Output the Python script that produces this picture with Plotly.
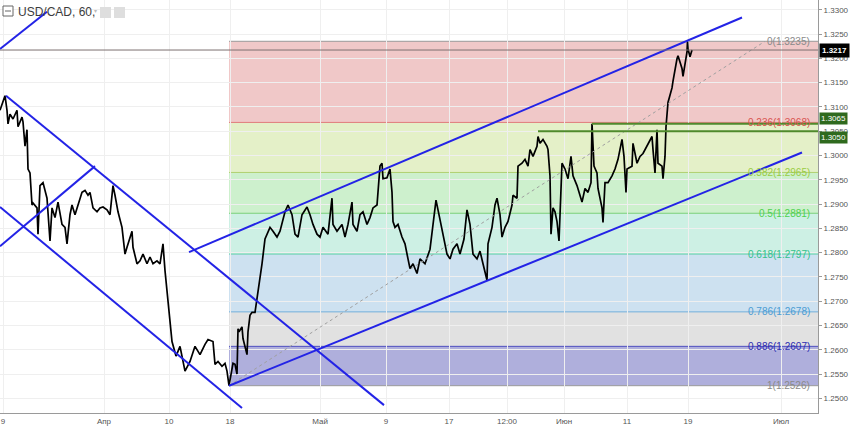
import plotly.graph_objects as go

# ---------------- price series (time index t, price) ----------------
T1 = [0, 5, 7, 8, 10, 13, 17, 18, 22, 23, 25, 27, 28, 30, 32, 33, 37, 38, 40, 43,
      47, 50, 52, 55, 58, 62, 65, 67, 70, 72, 75, 78, 82, 85, 88, 90, 93, 97, 100, 103,
      107, 110, 113, 115, 118, 122, 125, 127, 130, 132, 133, 137, 140, 143, 147, 150, 153, 157, 160, 163, 165]
P1 = [1.3093, 1.3123, 1.3093, 1.3065, 1.3085, 1.3075, 1.3093, 1.3059, 1.3079, 1.3069,
      1.3019, 1.3053, 1.2972, 1.2964, 1.2898, 1.2902, 1.2892, 1.2838, 1.2938, 1.2944,
      1.2912, 1.2824, 1.2892, 1.2872, 1.2904, 1.2858, 1.2852, 1.2818, 1.2878, 1.2898,
      1.2878, 1.2898, 1.2924, 1.2928, 1.2918, 1.2924, 1.2892, 1.2884, 1.2892, 1.2894,
      1.2888, 1.2878, 1.2938, 1.2918, 1.2884, 1.2852, 1.2797, 1.2811, 1.2832, 1.2844,
      1.2811, 1.2777, 1.2783, 1.2797, 1.2777, 1.2791, 1.2777, 1.2783, 1.2777, 1.2818, 1.2763]

T2 = [170, 172, 176, 180, 185, 190, 195, 200, 205, 208, 213, 215, 218, 222, 225, 227, 229, 232, 233, 235,
      237, 238, 239, 242, 243, 247, 248, 250, 252, 255]
P2 = [1.2657, 1.2617, 1.2587, 1.2607, 1.2556, 1.2576, 1.2607, 1.2590, 1.2611, 1.2621,
      1.2617, 1.2570, 1.2576, 1.2566, 1.2572, 1.2556, 1.2526, 1.2556, 1.2572, 1.2570,
      1.2550, 1.2643, 1.2637, 1.2647, 1.2623, 1.2590, 1.2637, 1.2671, 1.2677, 1.2677]

T3 = [258, 262, 265, 268, 270, 273, 277, 280, 285, 288, 292, 295, 298, 302, 307, 310, 313, 317, 320, 323,
      328, 332, 333, 337, 342, 345, 348, 352, 353, 357, 360, 363, 367, 370, 373, 377, 380, 382, 383, 387,
      390, 392, 393, 395, 398, 402, 405]
P3 = [1.2717, 1.2777, 1.2828, 1.2844, 1.2852, 1.2844, 1.2832, 1.2844, 1.2884, 1.2898,
      1.2878, 1.2838, 1.2832, 1.2878, 1.2894, 1.2878, 1.2858, 1.2838, 1.2832, 1.2852,
      1.2838, 1.2912, 1.2858, 1.2844, 1.2858, 1.2832, 1.2858, 1.2904, 1.2858, 1.2844,
      1.2878, 1.2884, 1.2858, 1.2872, 1.2892, 1.2898, 1.2978, 1.2984, 1.2952, 1.2954,
      1.2972, 1.2924, 1.2864, 1.2852, 1.2858, 1.2832, 1.2818]

T4 = [408, 410, 413, 417, 420, 425, 430, 433, 436, 440, 443, 447, 450, 453, 457, 460, 464, 467, 470, 473,
      477, 480, 483, 487, 488, 492, 495, 497, 500, 502, 505, 508, 512, 513, 517, 518, 522, 525, 528, 530,
      533, 537, 538, 540, 543, 547]
P4 = [1.2787, 1.2767, 1.2777, 1.2757, 1.2787, 1.2777, 1.2807, 1.2858, 1.2908, 1.2868,
      1.2838, 1.2797, 1.2787, 1.2807, 1.2818, 1.2797, 1.2828, 1.2888, 1.2858, 1.2797,
      1.2787, 1.2803, 1.2777, 1.2743, 1.2818, 1.2852, 1.2898, 1.2912, 1.2878, 1.2832,
      1.2852, 1.2864, 1.2898, 1.2918, 1.2912, 1.2978, 1.2984, 1.2992, 1.2978, 1.3012,
      1.2998, 1.3019, 1.3039, 1.3025, 1.3033, 1.3019]

T5 = [548, 550, 551, 553, 555, 557, 559, 561, 562, 565, 568, 571, 573, 577, 580, 582, 585, 588, 591, 592,
      594, 597, 598, 602, 603, 605, 608, 612, 615, 618, 622, 624, 626, 627, 632, 633, 637, 640, 643, 647,
      652, 653, 655, 657, 658, 662, 663, 665, 666, 668, 672, 673, 675, 677, 678, 680, 682, 683, 685, 687,
      687.5, 688, 690, 692]
P5 = [1.3012, 1.2958, 1.2838, 1.2892, 1.2884, 1.2864, 1.2824, 1.2918, 1.2984, 1.2972,
      1.2952, 1.2998, 1.2958, 1.2938, 1.2918, 1.2904, 1.2932, 1.2924, 1.2944, 1.3065,
      1.2978, 1.2964, 1.2932, 1.2892, 1.2862, 1.2944, 1.2944, 1.2958, 1.2972, 1.2992,
      1.3033, 1.2998, 1.2924, 1.2972, 1.2978, 1.3025, 1.2984, 1.2998, 1.3004, 1.3019,
      1.3039, 1.3012, 1.2964, 1.3053, 1.2984, 1.2978, 1.2952, 1.2998, 1.3059, 1.3109,
      1.3139, 1.3153, 1.3179, 1.3199, 1.3205, 1.3193, 1.3179, 1.3163, 1.3193, 1.3213,
      1.3235, 1.3219, 1.3203, 1.3217]

t = T1 + T2 + T3 + T4 + T5
price = P1 + P2 + P3 + P4 + P5

CURRENT_PRICE = 1.3217
LEVEL_LINES = [1.3065, 1.3050]          # horizontal green levels
LEVEL_STARTS = [592, 538]

# ---------------- axes ----------------
T_MAX = 818
X_TICK_POS = [3, 104, 169, 230, 320, 386, 449, 507, 564, 627, 688, 781]
X_TICK_TEXT = ["9", "Апр", "10", "18", "Май", "9", "17", "12:00", "Июн", "11", "19", "Июл"]
Y_TICKS = [1.2500, 1.2550, 1.2600, 1.2650, 1.2700, 1.2750, 1.2800, 1.2850, 1.2900,
           1.2950, 1.3000, 1.3050, 1.3100, 1.3150, 1.3200, 1.3250, 1.3300]
Y_TICK_TEXT = ["1.2500", "1.2550", "1.2600", "1.2650", "1.2700", "1.2750", "1.2800", "1.2850", "1.2900",
               "1.2950", "1.3000", "1.3050", "1.3100", "1.3150", "1.3200", "1.3250", "1.3300"]
Y_RANGE = [1.24698, 1.3320]

# ---------------- fibonacci retracement ----------------
FIB_START = 229
FIB_RATIOS = [0, 0.236, 0.382, 0.5, 0.618, 0.786, 0.886, 1]
FIB_PRICES = [1.3235, 1.3068, 1.2965, 1.2881, 1.2797, 1.2678, 1.2607, 1.2526]
FIB_LINE_COLORS = ["#9a9a9a", "#e07a7a", "#b0d070", "#7ad07a", "#60d0a8", "#70aedc", "#5050c0", "#9a9a9a"]
FIB_LABEL_COLORS = ["#8a8a8a", "#d9534f", "#99cc44", "#4fd14f", "#33c08c", "#4b9cd3", "#2c2cb0", "#8a8a8a"]
FIB_FILLS = ["rgba(212,98,98,0.35)", "rgba(178,212,98,0.35)", "rgba(112,212,112,0.35)",
             "rgba(112,212,178,0.35)", "rgba(112,169,212,0.35)", "rgba(169,169,169,0.35)",
             "rgba(26,26,155,0.35)"]
FIB_TREND_T = [229, 765]
FIB_TREND_P = [1.2526, 1.3235]

# ---------------- drawn trend lines ----------------
BLUE_LINES_T = [[189, 742], [229, 802], [6, 384], [0, 242], [0, 95], [0, 47]]
BLUE_LINES_P = [[1.2801, 1.3284], [1.2526, 1.3006], [1.3123, 1.2486], [1.2894, 1.2480],
                [1.2813, 1.2978], [1.3219, 1.3296]]

BLUE = "#2323e6"
FONT = "Liberation Sans, Arial, sans-serif"

fig = go.Figure()

# price
fig.add_trace(go.Scatter(x=t, y=price, mode="lines",
                         line=dict(color="#000000", width=1.7), hoverinfo="skip"))
# fib dotted trend
fig.add_trace(go.Scatter(x=FIB_TREND_T, y=FIB_TREND_P, mode="lines",
                         line=dict(color="#a0a0a0", width=1, dash="dot"), hoverinfo="skip"))
# blue trend lines
for xs, ys in zip(BLUE_LINES_T, BLUE_LINES_P):
    fig.add_trace(go.Scatter(x=xs, y=ys, mode="lines",
                             line=dict(color=BLUE, width=2), hoverinfo="skip"))

shapes = []
# fib bands
for i, col in enumerate(FIB_FILLS):
    shapes.append(dict(type="rect", xref="x", yref="y", x0=FIB_START, x1=T_MAX,
                       y0=FIB_PRICES[i + 1], y1=FIB_PRICES[i], fillcolor=col,
                       line=dict(width=0), layer="below"))
# fib lines
for p, col in zip(FIB_PRICES, FIB_LINE_COLORS):
    shapes.append(dict(type="line", xref="x", yref="y", x0=FIB_START, x1=T_MAX, y0=p, y1=p,
                       line=dict(color=col, width=1), layer="below"))
# current price line
shapes.append(dict(type="line", xref="x", yref="y", x0=0, x1=T_MAX, y0=CURRENT_PRICE, y1=CURRENT_PRICE,
                   line=dict(color="#7d7070", width=1)))
# green levels
for p, s in zip(LEVEL_LINES, LEVEL_STARTS):
    shapes.append(dict(type="line", xref="x", yref="y", x0=s, x1=T_MAX, y0=p, y1=p,
                       line=dict(color="#4f8a2c", width=2)))

# header icons (paper coords)
W, H = 818.0, 413.0
def px(x):
    return x / W
def py(y):
    return 1 - y / H
shapes.append(dict(type="rect", xref="paper", yref="paper", x0=px(3), x1=px(13), y0=py(16), y1=py(6),
                   line=dict(color="#666666", width=1), fillcolor="white"))
shapes.append(dict(type="line", xref="paper", yref="paper", x0=px(5), x1=px(11), y0=py(11), y1=py(11),
                   line=dict(color="#666666", width=1)))
for x0 in (100, 114):
    shapes.append(dict(type="rect", xref="paper", yref="paper", x0=px(x0), x1=px(x0 + 11),
                       y0=py(18), y1=py(7), line=dict(width=0), fillcolor="#dedede"))

annotations = []
annotations.append(dict(xref="paper", yref="paper", x=px(16), y=py(12), xanchor="left", yanchor="middle",
                        text="USD/CAD, 60,", showarrow=False,
                        font=dict(family=FONT, size=12, color="#3c3c3c")))
annotations.append(dict(xref="paper", yref="paper", x=px(92), y=py(11), xanchor="left", yanchor="middle",
                        text="▾", showarrow=False, font=dict(family=FONT, size=6, color="#bbbbbb")))
# fib labels
for r, p, col in zip(FIB_RATIOS, FIB_PRICES, FIB_LABEL_COLORS):
    annotations.append(dict(xref="paper", yref="y", x=px(812), y=p, xanchor="right", yanchor="middle",
                            text=f"{r:g}({p:.4f})", showarrow=False,
                            font=dict(family=FONT, size=10, color=col)))
# price labels on axis
annotations.append(dict(xref="paper", yref="y", x=1, y=CURRENT_PRICE, xanchor="left", yanchor="middle",
                        xshift=1, text=f"<b>{CURRENT_PRICE:.4f}</b>", showarrow=False, bgcolor="#000000",
                        borderpad=2, font=dict(family=FONT, size=8, color="white")))
for p, ys in zip(LEVEL_LINES, [5, -6]):
    annotations.append(dict(xref="paper", yref="y", x=1, y=p, xanchor="left", yanchor="middle",
                            xshift=1, yshift=ys, text=f"{p:.4f}", showarrow=False, bgcolor="#2f6a1e",
                            borderpad=1, font=dict(family=FONT, size=8, color="white")))

fig.update_layout(
    width=850, height=430,
    margin=dict(l=0, r=32, t=0, b=17, autoexpand=False),
    plot_bgcolor="white", paper_bgcolor="white",
    showlegend=False,
    shapes=shapes, annotations=annotations,
    xaxis=dict(range=[0, T_MAX], tickvals=X_TICK_POS, ticktext=X_TICK_TEXT, automargin=False,
               ticklabeloverflow="allow",
               showgrid=True, gridcolor="#efefef", zeroline=False,
               showline=True, linecolor="#9a9a9a", ticks="",
               tickfont=dict(family=FONT, size=8, color="#555555")),
    yaxis=dict(range=Y_RANGE, side="right", tickvals=Y_TICKS, ticktext=Y_TICK_TEXT, automargin=False,
               showgrid=True, gridcolor="#efefef", zeroline=False,
               showline=True, linecolor="#9a9a9a", ticks="outside", ticklen=3, tickcolor="#9a9a9a",
               tickfont=dict(family=FONT, size=8, color="#555555")),
)

fig.write_html("out.html", config={"displayModeBar": False},
               post_script="document.body.style.margin='0';document.body.style.padding='0';"
                           "document.body.style.overflow='hidden';")
